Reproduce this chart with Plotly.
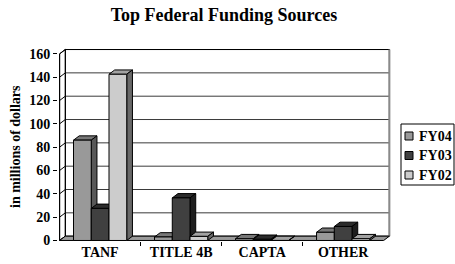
import plotly.graph_objects as go

categories = ["TANF", "TITLE 4B", "CAPTA", "OTHER"]
series_names = ["FY04", "FY03", "FY02"]
fy04 = [86, 3, 1.5, 7]
fy03 = [27.5, 36.5, 1, 12]
fy02 = [142.5, 3.5, 0, 1.5]
y_ticks = [0, 20, 40, 60, 80, 100, 120, 140, 160]

series_values = [fy04, fy03, fy02]
front_colors = ["#999999", "#404040", "#cccccc"]
top_colors = ["#777777", "#2c2c2c", "#a2a2a2"]
side_colors = ["#585858", "#1e1e1e", "#686868"]

FONT = "Liberation Serif"
DX = 0.0704   # depth in x data units
DY = 3.69     # depth in y data units
W = 0.219     # bar width
X0, X1 = -0.5, 3.5
YMAX = y_ticks[-1]


def bold(size):
    return dict(family=FONT, size=size, color="black", weight="bold")


fig = go.Figure()


def poly(xs, ys, fill, line="black", width=1):
    fig.add_trace(go.Scatter(x=xs, y=ys, mode="lines", fill="toself",
                             fillcolor=fill, line=dict(color=line, width=width),
                             hoverinfo="skip", showlegend=False))


def seg(xs, ys, color="black", width=1):
    fig.add_trace(go.Scatter(x=xs, y=ys, mode="lines",
                             line=dict(color=color, width=width),
                             hoverinfo="skip", showlegend=False))


# back wall
poly([X0 + DX, X1 + DX, X1 + DX, X0 + DX, X0 + DX],
     [DY, DY, YMAX + DY, YMAX + DY, DY], "white")
# left side wall
poly([X0, X0 + DX, X0 + DX, X0, X0], [0, DY, YMAX + DY, YMAX, 0], "white")
# gridlines on back wall and side wall
gx, gy, dxs, dys = [], [], [], []
for v in y_ticks[1:-1]:
    gx += [X0 + DX, X1 + DX, None]
    gy += [v + DY, v + DY, None]
for v in y_ticks:
    dxs += [X0, X0 + DX, None]
    dys += [v, v + DY, None]
seg(gx, gy, "#3a3a3a", 1)
seg(dxs, dys, "black", 1)
# back wall outline
seg([X0 + DX, X0 + DX, X1 + DX], [DY, YMAX + DY, YMAX + DY], "black", 1)
seg([X1 + DX, X1 + DX], [YMAX + DY, DY], "#8a8a8a", 2)
# floor
poly([X0, X1, X1 + DX, X0 + DX, X0], [0, 0, DY, DY, 0], "#9a9a9a")
# front value axis line
seg([X0, X0], [0, YMAX], "black", 1)

# bars (top, side, front per series; series drawn left to right)
for j, vals in enumerate(series_values):
    tx, ty, sx, sy, fx, fy = [], [], [], [], [], []
    for i, h in enumerate(vals):
        a = i - 1.5 * W + j * W
        b = a + W
        tx += [a, b, b + DX, a + DX, a, None]
        ty += [h, h, h + DY, h + DY, h, None]
        sx += [b, b + DX, b + DX, b, b, None]
        sy += [0, DY, h + DY, h, 0, None]
        fx += [a, b, b, a, a, None]
        fy += [0, 0, h, h, 0, None]
    poly(tx, ty, top_colors[j])
    poly(sx, sy, side_colors[j])
    poly(fx, fy, front_colors[j])

# layout geometry
L, R, T, B = 58, 64, 48, 23
xr = [-0.52, X1 + DX + 0.02]
yr = [-0.45, 165.0]

fig.update_layout(
    template="none",
    width=455, height=264,
    margin=dict(l=L, r=R, t=T, b=B, autoexpand=False),
    paper_bgcolor="white", plot_bgcolor="white",
    showlegend=False,
    font=bold(14),
    title=dict(text="Top Federal Funding Sources",
               font=bold(18),
               x=0.4923, xref="container", xanchor="center",
               y=0.968, yref="container", yanchor="top"),
    xaxis=dict(range=xr, showgrid=False, zeroline=False, showline=False,
               automargin=False,
               tickmode="array", tickvals=list(range(len(categories))),
               ticktext=categories,
               ticks="", tickfont=bold(14),
               ticklabelstandoff=1,
               minor=dict(tickmode="array", tickvals=[0.5, 1.5, 2.5],
                          ticks="outside", ticklen=4, tickcolor="black",
                          tickwidth=1, showgrid=False),
               fixedrange=True),
    yaxis=dict(range=yr, showgrid=False, zeroline=False, showline=False,
               automargin=False,
               tickmode="array", tickvals=y_ticks,
               ticktext=[str(v) for v in y_ticks],
               ticks="outside", ticklen=4, tickcolor="black", tickwidth=1,
               tickfont=bold(14),
               fixedrange=True),
)

plot_w = 455 - L - R
plot_h = 264 - T - B


def px_to_paper_x(px):
    return (px - L) / plot_w


def px_to_paper_y(py):
    return (264 - B - py) / plot_h


# y axis title
fig.add_annotation(text="in millions of dollars", textangle=-90,
                   xref="paper", yref="paper",
                   x=px_to_paper_x(15), y=px_to_paper_y(147),
                   xanchor="center", yanchor="middle", showarrow=False,
                   font=bold(14))

# legend (box, swatches, labels)
fig.add_shape(type="rect", xref="paper", yref="paper",
              x0=px_to_paper_x(401), x1=px_to_paper_x(454),
              y0=px_to_paper_y(185), y1=px_to_paper_y(124),
              line=dict(color="black", width=1), fillcolor="white")
for k, name in enumerate(series_names):
    cy = 136 + k * 19.5
    fig.add_shape(type="rect", xref="paper", yref="paper",
                  x0=px_to_paper_x(405), x1=px_to_paper_x(413),
                  y0=px_to_paper_y(cy + 4), y1=px_to_paper_y(cy - 4),
                  line=dict(color="black", width=1), fillcolor=front_colors[k])
    fig.add_annotation(text=name, xref="paper", yref="paper",
                       x=px_to_paper_x(417), y=px_to_paper_y(cy),
                       xanchor="left", yanchor="middle", showarrow=False,
                       font=bold(14))

fig.write_html("out.html",
               config={"displayModeBar": False},
               post_script="document.body.style.margin='0';"
                           "document.body.style.padding='0';")
